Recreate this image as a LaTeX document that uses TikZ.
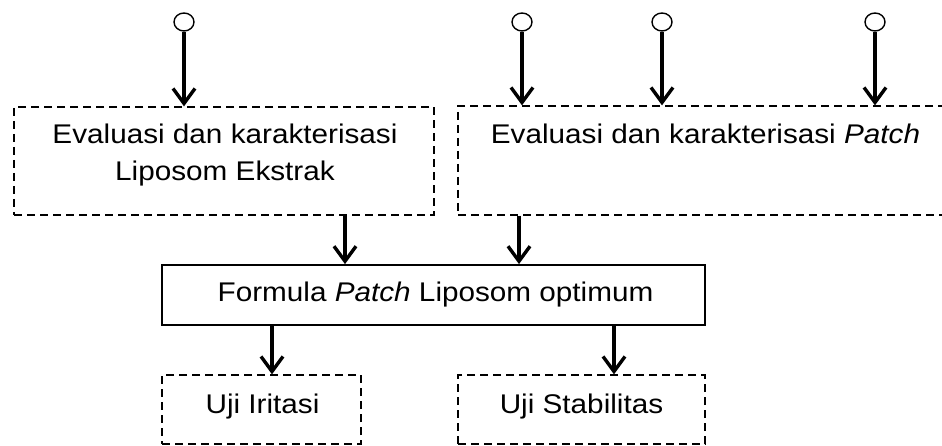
\documentclass[tikz,border=0pt]{standalone}
\usepackage{fontspec}
\setmainfont[FakeStretch=1.1]{Liberation Sans}
\usetikzlibrary{arrows.meta,shapes.geometric}

\begin{document}
\begin{tikzpicture}[x=1pt,y=-1pt,
  txt/.style={inner sep=0pt,anchor=base,font=\fontsize{27}{37.4}\selectfont},
  dbox/.style={draw,rectangle,inner sep=0pt,line width=1.3pt,dash pattern=on 8pt off 5pt},
  sbox/.style={draw,rectangle,inner sep=0pt,line width=1.8pt},
  term/.style={draw,ellipse,inner sep=0pt,minimum width=20pt,minimum height=18pt,line width=1.4pt,fill=white},
  arr/.style={line width=3.4pt,-{Straight Barb[length=15pt,width=22pt,line width=3.4pt]}}]
\clip (0,0) rectangle (942,446);
\fill[white] (0,0) rectangle (942,446);

% boxes
\node[dbox,minimum width=420pt,minimum height=108pt] (evalA) at (224,161) {};
\node[dbox,minimum width=495pt,minimum height=109pt] (evalB) at (705.5,160.5) {};
\node[sbox,minimum width=543pt,minimum height=60pt] (formula) at (433.5,295) {};
\node[dbox,minimum width=199pt,minimum height=69pt] (iritasi) at (261.5,409.5) {};
\node[dbox,minimum width=247pt,minimum height=69pt] (stabil) at (581.5,409.5) {};

% labels
\node[txt] (tA1) at (225,143.3) {Evaluasi dan karakterisasi};
\node[txt] (tA2) at (225,180.7) {Liposom Ekstrak};
\node[txt] (tB) at (705.5,143.3) {Evaluasi dan karakterisasi \textit{Patch}};
\node[txt] (tF) at (435.5,301.7) {Formula \textit{Patch} Liposom optimum};
\node[txt] (tI) at (262.5,413.3) {Uji Iritasi};
\node[txt] (tS) at (581.5,413.3) {Uji Stabilitas};

% start terminals
\node[term] (s1) at (184,22) {};
\node[term] (s2) at (522,22) {};
\node[term] (s3) at (662,22) {};
\node[term] (s4) at (875,22) {};

% arrow columns
\coordinate (colA) at (345,0);
\coordinate (colB) at (519,0);
\coordinate (colC) at (272,0);
\coordinate (colD) at (614,0);

% connectors
\draw[arr] (s1.south) -- (s1 |- evalA.north);
\draw[arr] (s2.south) -- (s2 |- evalB.north);
\draw[arr] (s3.south) -- (s3 |- evalB.north);
\draw[arr] (s4.south) -- (s4 |- evalB.north);
\draw[arr] (colA |- evalA.south) -- (colA |- formula.north);
\draw[arr] (colB |- evalB.south) -- (colB |- formula.north);
\draw[arr] (colC |- formula.south) -- (colC |- iritasi.north);
\draw[arr] (colD |- formula.south) -- (colD |- stabil.north);
\end{tikzpicture}
\end{document}
